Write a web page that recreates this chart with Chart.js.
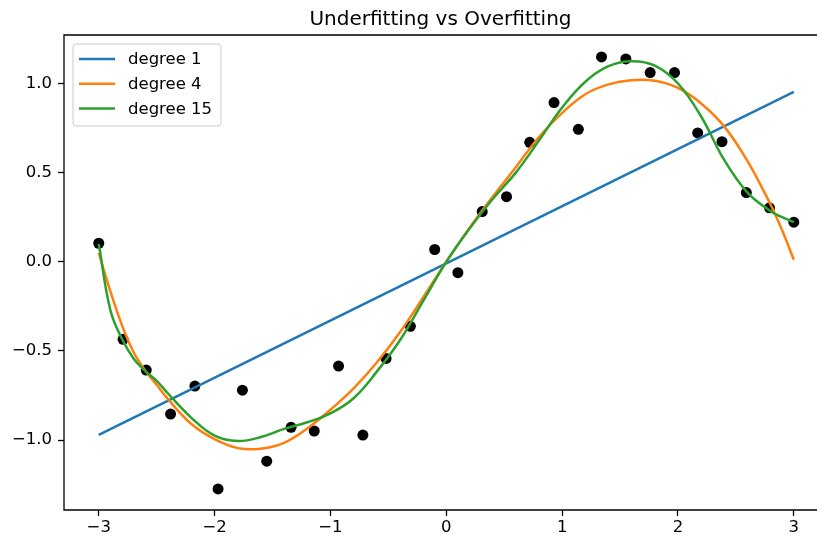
<!DOCTYPE html>
<html>
<head>
<meta charset="utf-8">
<script src="https://cdn.jsdelivr.net/npm/chart.js@4.4.1/dist/chart.umd.min.js"></script>
<style>
  html, body { margin: 0; padding: 0; background: #fff; overflow: hidden; }
  canvas { display: block; }
</style>
</head>
<body>
<canvas id="myChart" width="817" height="538"></canvas>
<script>
// noisy samples (black dots)
let pointX = [-3.00, -2.79, -2.59, -2.38, -2.17, -1.97, -1.76, -1.55, -1.34, -1.14,
              -0.93, -0.72, -0.52, -0.31, -0.10, 0.10, 0.31, 0.52, 0.72, 0.93,
              1.14, 1.34, 1.55, 1.76, 1.97, 2.17, 2.38, 2.59, 2.79, 3.00];
let pointY = [0.104, -0.435, -0.607, -0.854, -0.697, -1.274, -0.72, -1.118, -0.928, -0.949,
              -0.585, -0.972, -0.542, -0.362, 0.069, -0.061, 0.282, 0.365, 0.670, 0.893,
              0.743, 1.149, 1.138, 1.061, 1.061, 0.723, 0.674, 0.388, 0.303, 0.222];

// fitted curves
let lineX = [-3, 3];
let deg1Y = [-0.970, 0.953];

let curveX = [-3.0, -2.9, -2.8, -2.7, -2.6, -2.5, -2.4, -2.2, -2.0, -1.8, -1.6, -1.4, -1.2, -1.0,
              -0.8, -0.6, -0.4, -0.2, 0.0, 0.2, 0.4, 0.6, 0.8, 1.0, 1.2, 1.4, 1.6, 1.8, 2.0,
              2.2, 2.4, 2.6, 2.8, 2.9, 3.0];
let deg4Y = [0.05, -0.165, -0.355, -0.506, -0.609, -0.69, -0.772, -0.91, -0.995, -1.045, -1.048, -1.015, -0.935, -0.83,
             -0.71, -0.565, -0.395, -0.20, 0.0, 0.19, 0.365, 0.53, 0.70, 0.835, 0.94, 0.995, 1.018, 1.015, 0.975,
             0.888, 0.758, 0.565, 0.32, 0.175, 0.012];
let deg15Y = [0.10, -0.27, -0.432, -0.542, -0.612, -0.668, -0.74, -0.875, -0.975, -1.005, -0.983, -0.937, -0.90, -0.85,
              -0.765, -0.616, -0.44, -0.22, 0.0, 0.186, 0.352, 0.50, 0.68, 0.865, 1.01, 1.097, 1.125, 1.10, 1.0,
              0.815, 0.57, 0.388, 0.284, 0.25, 0.223];

let seriesNames = ['degree 1', 'degree 4', 'degree 15'];
let seriesColors = ['#1f77b4', '#ff7f0e', '#2ca02c'];

let xTicks = [-3, -2, -1, 0, 1, 2, 3];
let xTickLabels = ['\u22123', '\u22122', '\u22121', '0', '1', '2', '3'];
let yTicks = [-1.0, -0.5, 0.0, 0.5, 1.0];
let yTickLabels = ['\u22121.0', '\u22120.5', '0.0', '0.5', '1.0'];

const FONT = "'DejaVu Sans', sans-serif";

function pairs(xs, ys) {
    return xs.map((x, i) => ({ x: x, y: ys[i] }));
}

// axes frame + legend box drawn inside the plot, matplotlib style
// (the right spine falls just past the picture's edge in the original, so it is not drawn)
const framePlugin = {
    id: 'frame',
    afterDraw(chart) {
        const ctx = chart.ctx;
        const a = chart.chartArea;
        ctx.save();
        ctx.strokeStyle = '#000';
        ctx.lineWidth = 1.3;
        ctx.beginPath();
        ctx.moveTo(a.right + 2, a.top);
        ctx.lineTo(a.left, a.top);
        ctx.lineTo(a.left, a.bottom);
        ctx.lineTo(a.right + 2, a.bottom);
        ctx.stroke();

        let bx = a.left + 9, by = a.top + 9, bw = 148, bh = 82, r = 3;
        ctx.beginPath();
        ctx.moveTo(bx + r, by);
        ctx.lineTo(bx + bw - r, by);
        ctx.arcTo(bx + bw, by, bx + bw, by + r, r);
        ctx.lineTo(bx + bw, by + bh - r);
        ctx.arcTo(bx + bw, by + bh, bx + bw - r, by + bh, r);
        ctx.lineTo(bx + r, by + bh);
        ctx.arcTo(bx, by + bh, bx, by + bh - r, r);
        ctx.lineTo(bx, by + r);
        ctx.arcTo(bx, by, bx + r, by, r);
        ctx.closePath();
        ctx.fillStyle = 'rgba(255,255,255,0.8)';
        ctx.fill();
        ctx.strokeStyle = '#cccccc';
        ctx.lineWidth = 1;
        ctx.stroke();

        ctx.font = '16.5px ' + FONT;
        ctx.textBaseline = 'middle';
        ctx.fillStyle = '#000';
        for (let i = 0; i < seriesNames.length; i++) {
            let y = by + 15 + i * 24.7;
            ctx.strokeStyle = seriesColors[i];
            ctx.lineWidth = 2.5;
            ctx.beginPath();
            ctx.moveTo(bx + 6, y);
            ctx.lineTo(bx + 42, y);
            ctx.stroke();
            ctx.fillText(seriesNames[i], bx + 55, y + 1);
        }
        ctx.restore();
    }
};

let ctx = document.getElementById('myChart').getContext('2d');

let myChart = new Chart(ctx, {
    type: 'scatter',
    data: {
        datasets: [
            {
                label: seriesNames[2],
                data: pairs(curveX, deg15Y),
                showLine: true,
                borderColor: seriesColors[2],
                borderWidth: 2.5,
                pointRadius: 0,
                tension: 0.4,
                order: 1
            },
            {
                label: seriesNames[1],
                data: pairs(curveX, deg4Y),
                showLine: true,
                borderColor: seriesColors[1],
                borderWidth: 2.5,
                pointRadius: 0,
                tension: 0.4,
                order: 2
            },
            {
                label: seriesNames[0],
                data: pairs(lineX, deg1Y),
                showLine: true,
                borderColor: seriesColors[0],
                borderWidth: 2.5,
                pointRadius: 0,
                order: 3
            },
            {
                label: 'samples',
                data: pairs(pointX, pointY),
                pointRadius: 5.5,
                pointBackgroundColor: '#000',
                pointBorderWidth: 0,
                order: 4
            }
        ]
    },
    options: {
        responsive: false,
        animation: false,
        devicePixelRatio: 1,
        layout: { padding: 0, autoPadding: false },
        plugins: {
            legend: { display: false },
            tooltip: { enabled: false },
            title: {
                display: true,
                text: 'Underfitting vs Overfitting',
                color: '#000',
                fullSize: false,
                font: { family: FONT, size: 20, weight: 'normal' },
                padding: { top: 8, bottom: 3 }
            }
        },
        scales: {
            x: {
                type: 'linear',
                min: -3.3,
                max: 3.2,   // plot runs on to 3.3, past the right edge of the picture
                afterFit(scale) {
                    scale.height = 28;
                    scale.paddingLeft = 0;
                    scale.paddingRight = 0;
                },
                afterBuildTicks(scale) { scale.ticks = xTicks.map(v => ({ value: v })); },
                border: { display: false },
                grid: { drawOnChartArea: false, drawTicks: true, tickLength: 6, color: '#000', tickWidth: 1.3 },
                ticks: {
                    color: '#000',
                    padding: 2,
                    maxRotation: 0,
                    font: { family: FONT, size: 16.5 },
                    callback: (v) => xTickLabels[xTicks.indexOf(v)]
                }
            },
            y: {
                type: 'linear',
                min: -1.392,
                max: 1.272,
                afterFit(scale) { scale.width = 64; },
                afterBuildTicks(scale) { scale.ticks = yTicks.map(v => ({ value: v })); },
                border: { display: false },
                grid: { drawOnChartArea: false, drawTicks: true, tickLength: 6, color: '#000', tickWidth: 1.3 },
                ticks: {
                    color: '#000',
                    padding: 6,
                    font: { family: FONT, size: 16.5 },
                    callback: (v) => yTickLabels[yTicks.indexOf(v)]
                }
            }
        }
    },
    plugins: [framePlugin]
});
</script>
</body>
</html>
